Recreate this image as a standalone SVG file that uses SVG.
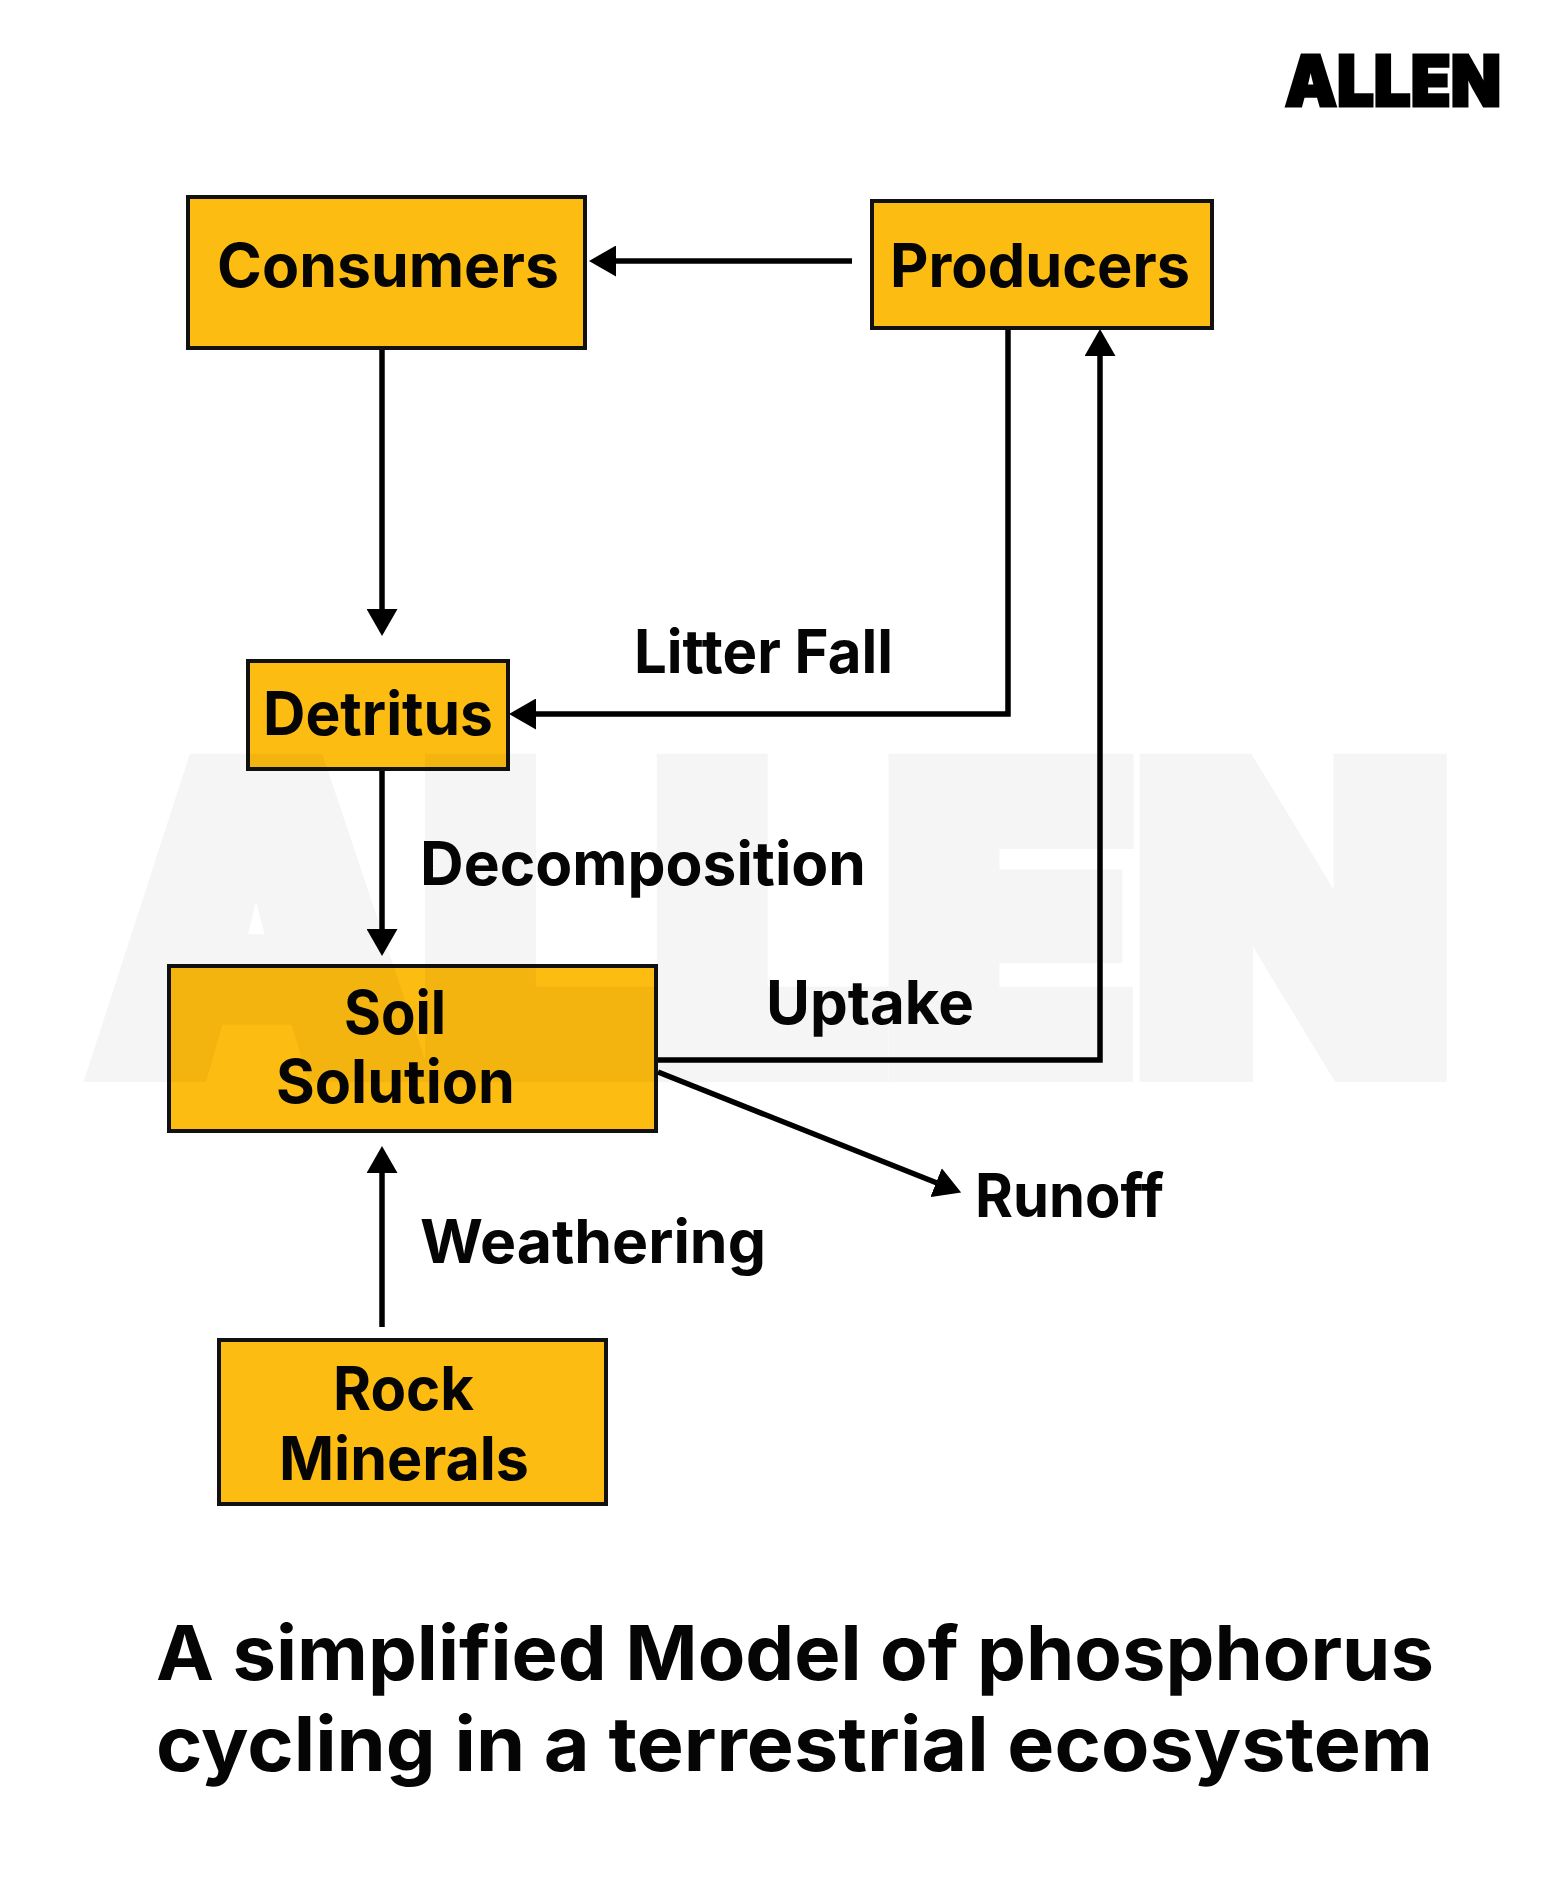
<svg xmlns="http://www.w3.org/2000/svg" width="1560" height="1899" viewBox="0 0 1560 1899">
<style>
text{font-family:"Inter","Noto Sans","Liberation Sans",sans-serif;font-weight:700;fill:#050505;font-size:60px}
.box{fill:#fdbc11;stroke:#111;stroke-width:4}
.title{font-size:76px}
.logo{font-weight:900;fill:#000;stroke:#000;stroke-width:3;font-size:70px}
.wm{font-weight:900;font-size:410px;fill:#000;stroke:#000;stroke-width:30;opacity:.035}
.c{fill:none;stroke:#000;stroke-width:5.500;marker-end:url(#a)}
</style>
<defs><marker id="a" markerUnits="userSpaceOnUse" viewBox="0 0 27 31" markerWidth="27" markerHeight="31" refX="1" refY="15.500" orient="auto"><path d="M0 0L27 15.500L0 31z" fill="#000"/></marker></defs>
<rect width="1560" height="1899" fill="#fff"/>
<text id="logo" class="logo" x="1285" y="106" textLength="216" lengthAdjust="spacingAndGlyphs">ALLEN</text>
<g id="connectors">
<path class="c" d="M852 261H615"/>
<path class="c" d="M382 348V610"/>
<path class="c" d="M1008 328V714H535"/>
<path class="c" d="M382 769V930"/>
<path class="c" d="M656 1060H1100V355"/>
<path class="c" d="M658 1072L937 1183"/>
<path class="c" d="M382 1327V1172"/>
</g>
<g id="consumers"><rect class="box" x="188" y="197" width="397" height="151"/><text x="217" y="287" textLength="342" lengthAdjust="spacingAndGlyphs">Consumers</text></g>
<g id="producers"><rect class="box" x="872" y="201" width="340" height="127"/><text x="890" y="287" textLength="300" lengthAdjust="spacingAndGlyphs">Producers</text></g>
<g id="detritus"><rect class="box" x="248" y="661" width="260" height="108"/><text x="263" y="735" textLength="230" lengthAdjust="spacingAndGlyphs">Detritus</text></g>
<g id="soil"><rect class="box" x="169" y="966" width="487" height="165"/><text x="344" y="1034" textLength="102" lengthAdjust="spacingAndGlyphs">Soil</text><text x="276" y="1103" textLength="239" lengthAdjust="spacingAndGlyphs">Solution</text></g>
<g id="rock"><rect class="box" x="219" y="1340" width="387" height="164"/><text x="333" y="1410" textLength="141" lengthAdjust="spacingAndGlyphs">Rock</text><text x="279" y="1480" textLength="250" lengthAdjust="spacingAndGlyphs">Minerals</text></g>
<g id="labels">
<text x="634" y="673" textLength="259" lengthAdjust="spacingAndGlyphs">Litter Fall</text>
<text x="420" y="885" textLength="446" lengthAdjust="spacingAndGlyphs">Decomposition</text>
<text x="766" y="1024" textLength="208" lengthAdjust="spacingAndGlyphs">Uptake</text>
<text x="975" y="1217" textLength="189" lengthAdjust="spacingAndGlyphs">Runoff</text>
<text x="420" y="1263" textLength="346" lengthAdjust="spacingAndGlyphs">Weathering</text>
</g>
<g id="title">
<text class="title" x="156" y="1680" textLength="1278" lengthAdjust="spacingAndGlyphs">A simplified Model of phosphorus</text>
<text class="title" x="156" y="1771" textLength="1277" lengthAdjust="spacingAndGlyphs">cycling in a terrestrial ecosystem</text>
</g>
<text id="watermark" class="wm" x="95" y="1067" textLength="1356" lengthAdjust="spacingAndGlyphs">ALLEN</text>
</svg>
